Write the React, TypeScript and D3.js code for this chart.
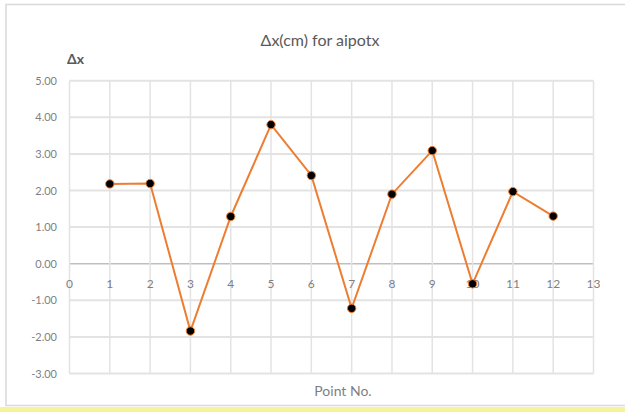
import React from "react";
import * as d3 from "d3";

const pointNo = [1, 2, 3, 4, 5, 6, 7, 8, 9, 10, 11, 12];
const deltaX = [2.18, 2.19, -1.84, 1.29, 3.8, 2.41, -1.22, 1.9, 3.09, -0.55, 1.97, 1.3];
const xTicks = d3.range(0, 14);
const yTicks = [5, 4, 3, 2, 1, 0, -1, -2, -3];

const W = 625;
const H = 412;
const FONT = "Lato, 'Open Sans', sans-serif";

export default function App() {
  const x = d3.scaleLinear().domain([0, 13]).range([69.5, 593.5]);
  const y = d3.scaleLinear().domain([-3, 5]).range([373.5, 80.7]);
  const line = d3
    .line<number>()
    .x((_, i) => x(pointNo[i]))
    .y((d) => y(d));

  return (
    <svg
      width={W}
      height={H}
      style={{ position: "absolute", left: 0, top: 0, background: "#fff" }}
      fontFamily={FONT}
    >
      {/* chart frame */}
      <rect x={6} y={4.5} width={640} height={401} fill="#fff" stroke="#d9d9d9" strokeWidth={1.5} />
      <rect x={0} y={407} width={W} height={5} fill="#f7f39a" />

      <text x={320} y={46} textAnchor="middle" fontSize={16} fill="#595959">
        Δx(cm) for aipotx
      </text>
      <text x={67} y={64} fontSize={14} fontWeight="bold" fill="#595959">
        Δx
      </text>

      {/* gridlines */}
      {yTicks.map((t) => (
        <line
          key={"gy" + t}
          x1={x(0)}
          x2={x(13)}
          y1={y(t)}
          y2={y(t)}
          stroke={t === 0 ? "#bfbfbf" : "#e3e3e3"}
          strokeWidth={t === 0 ? 1.5 : 2}
        />
      ))}
      {xTicks.map((t) => (
        <line
          key={"gx" + t}
          x1={x(t)}
          x2={x(t)}
          y1={y(5)}
          y2={y(-3)}
          stroke="#e3e3e3"
          strokeWidth={1.5}
        />
      ))}

      {/* axis labels */}
      {yTicks.map((t) => (
        <text
          key={"ly" + t}
          x={57}
          y={y(t) + 4}
          textAnchor="end"
          fontSize={11}
          fill="#7f7f7f"
        >
          {t.toFixed(2)}
        </text>
      ))}
      {xTicks.map((t) => (
        <text
          key={"lx" + t}
          x={x(t)}
          y={y(0) + 24}
          textAnchor="middle"
          fontSize={12}
          fill="#7f7f7f"
        >
          {t}
        </text>
      ))}
      <text x={343} y={396} textAnchor="middle" fontSize={14} fill="#7f7f7f">
        Point No.
      </text>

      {/* series */}
      <path d={line(deltaX) ?? ""} fill="none" stroke="#ed7d31" strokeWidth={2} />
      {deltaX.map((v, i) => (
        <circle
          key={"p" + i}
          cx={x(pointNo[i])}
          cy={y(v)}
          r={4.2}
          fill="#000"
          stroke="#ed7d31"
          strokeWidth={1}
        />
      ))}
    </svg>
  );
}
